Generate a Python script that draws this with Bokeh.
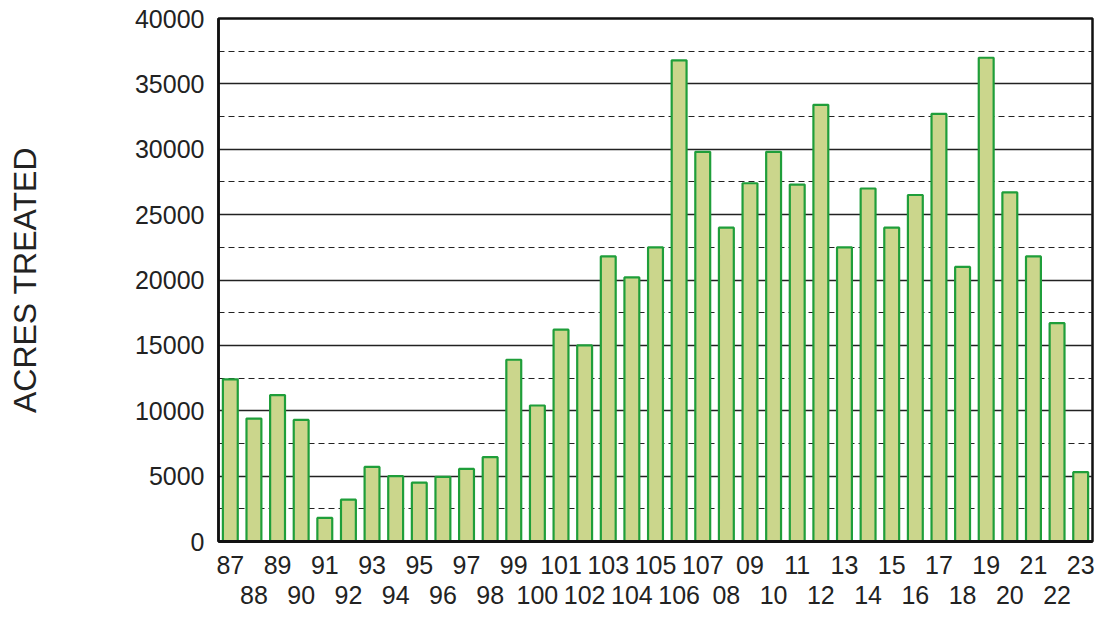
from bokeh.plotting import figure
from bokeh.models import Range1d, LinearAxis, SingleIntervalTicker, FixedTicker, ColumnDataSource
from bokeh.embed import file_html
from bokeh.resources import INLINE

years = ["87", "88", "89", "90", "91", "92", "93", "94", "95", "96", "97", "98", "99",
         "100", "101", "102", "103", "104", "105", "106", "107",
         "08", "09", "10", "11", "12", "13", "14", "15", "16", "17", "18", "19", "20",
         "21", "22", "23"]
acres = [12400, 9400, 11200, 9300, 1800, 3200, 5700, 5000, 4500, 4950, 5550, 6450, 13900,
         10400, 16200, 15000, 21800, 20200, 22500, 36800, 29800,
         24000, 27400, 29800, 27300, 33400, 22500, 27000, 24000, 26500, 32700, 21000, 37000, 26700,
         21800, 16700, 5300]
y_label = "ACRES TREATED"

FONT = "Liberation Sans"
TXT = "#222222"

pos = list(range(len(years)))
src = ColumnDataSource(dict(pos=pos, year=years, acres=acres))

p = figure(width=1105, height=609,
           x_range=Range1d(-0.5, len(years) - 0.5), y_range=Range1d(0, 40000),
           output_backend="svg", toolbar_location=None,
           min_border_left=218, min_border_top=18, min_border_right=13, min_border_bottom=68,
           x_axis_location=None)

p.vbar(x="pos", top="acres", width=0.63, source=src,
       fill_color="#cbd68c", line_color="#1f9e3a", line_width=2.2)

# frame
p.outline_line_color = "#111111"
p.outline_line_width = 2.5
p.background_fill_color = "white"
p.border_fill_color = "white"

# y axis
p.yaxis.ticker = SingleIntervalTicker(interval=5000, num_minor_ticks=2)
p.yaxis.major_tick_line_color = None
p.yaxis.minor_tick_line_color = None
p.yaxis.major_tick_out = 0
p.yaxis.major_tick_in = 0
p.yaxis.axis_line_color = "#111111"
p.yaxis.axis_line_width = 2.5
p.yaxis.major_label_text_font = FONT
p.yaxis.major_label_text_font_size = "25px"
p.yaxis.major_label_text_color = TXT
p.yaxis.major_label_standoff = 10
p.yaxis.axis_label = y_label
p.yaxis.axis_label_text_font = FONT
p.yaxis.axis_label_text_font_size = "32px"
p.yaxis.axis_label_text_font_style = "normal"
p.yaxis.axis_label_text_color = TXT
p.yaxis.axis_label_standoff = 89

# grids
p.xgrid.grid_line_color = None
p.ygrid.grid_line_color = "#222222"
p.ygrid.grid_line_width = 1.3
p.ygrid.minor_grid_line_color = "#222222"
p.ygrid.minor_grid_line_width = 1.2
p.ygrid.minor_grid_line_dash = "6 4"

# two rows of x labels
top_idx = [i for i in pos if i % 2 == 0]
bot_idx = [i for i in pos if i % 2 == 1]

ax1 = LinearAxis(ticker=FixedTicker(ticks=top_idx),
                 major_label_overrides={i: years[i] for i in top_idx})
ax2 = LinearAxis(ticker=FixedTicker(ticks=bot_idx),
                 major_label_overrides={i: years[i] for i in bot_idx})
for ax, standoff, line in ((ax1, 14, "#111111"), (ax2, 9, None)):
    ax.major_tick_line_color = None
    ax.minor_tick_line_color = None
    ax.major_tick_out = 0
    ax.major_tick_in = 0
    ax.axis_line_color = line
    ax.axis_line_width = 3
    ax.axis_label_standoff = 0
    ax.major_label_text_font = FONT
    ax.major_label_text_font_size = "25px"
    ax.major_label_text_color = TXT
    ax.major_label_standoff = standoff
p.add_layout(ax1, "below")
p.add_layout(ax2, "below")

open("out.html", "w").write(file_html(p, INLINE))
